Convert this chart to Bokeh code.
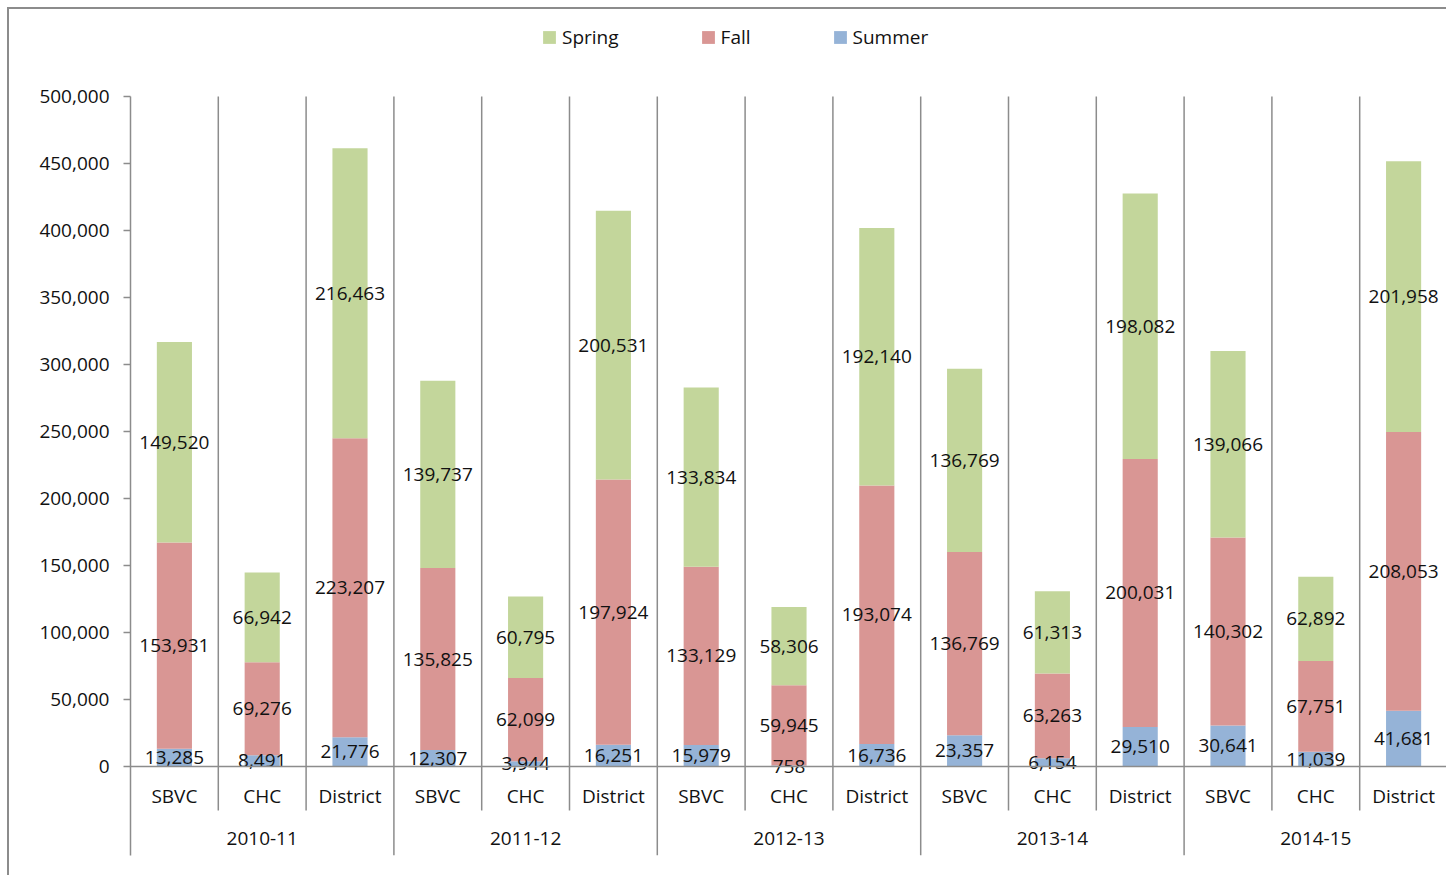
import numpy as np
from bokeh.plotting import figure
from bokeh.models import (FactorRange, Range1d, FixedTicker, NumeralTickFormatter,
                          Legend, LegendItem, ColumnDataSource)
from bokeh.core.properties import value
from bokeh.embed import file_html
from bokeh.resources import INLINE

years = ["2010-11", "2011-12", "2012-13", "2013-14", "2014-15"]
campuses = ["SBVC", "CHC", "District"]
summer = [13285, 8491, 21776, 12307, 3944, 16251, 15979, 758, 16736,
          23357, 6154, 29510, 30641, 11039, 41681]
fall = [153931, 69276, 223207, 135825, 62099, 197924, 133129, 59945, 193074,
        136769, 63263, 200031, 140302, 67751, 208053]
spring = [149520, 66942, 216463, 139737, 60795, 200531, 133834, 58306, 192140,
          136769, 61313, 198082, 139066, 62892, 201958]
y_ticks = list(range(0, 500001, 50000))

FONT = "Open Sans"
FS = "19px"
GRAY = "#8c8c8c"
TXT = "#111111"
C_SUMMER, C_FALL, C_SPRING = "#95b3d7", "#d99694", "#c3d69b"
Y_MIN, Y_TOP, Y_MAX = -66400, 500000, 564200

factors = [(y, c) for y in years for c in campuses]
x_range = FactorRange(*factors, factor_padding=0, subgroup_padding=0,
                      group_padding=0, range_padding=0)

p = figure(x_range=x_range, y_range=Range1d(Y_MIN, Y_MAX),
           width=1439, height=868, output_backend="svg", toolbar_location=None,
           min_border_left=121, min_border_right=1, min_border_top=1,
           min_border_bottom=22)
p.outline_line_color = None
p.xgrid.visible = False
p.ygrid.visible = False
p.styles = {"border-left": "2px solid #8c8c8c", "border-top": "2px solid #8c8c8c",
            "margin-left": "7px", "margin-top": "7px"}

src = ColumnDataSource(dict(x=factors, Summer=summer, Fall=fall, Spring=spring))
rs = p.vbar_stack(["Summer", "Fall", "Spring"], x="x", width=0.4, source=src,
                  fill_color=[C_SUMMER, C_FALL, C_SPRING], line_color=None)

# separators
sep_x = [(y, c, 0.5) for y in years for c in campuses]
sep_bottom = [Y_MIN if c == campuses[-1] else -32800 for y in years for c in campuses]
p.segment(x0=sep_x, y0=Y_TOP, x1=sep_x, y1=sep_bottom, line_color=GRAY, line_width=1.5)

# data labels
s = np.array(summer); f = np.array(fall); sp = np.array(spring)
lab_x = factors * 3
lab_y = list(s / 2) + list(s + f / 2) + list(s + f + sp / 2)
lab_t = [f"{v:,}" for v in summer + fall + spring]
p.text(x=lab_x, y=lab_y, text=lab_t, text_align="center", text_baseline="middle",
       text_font=value(FONT), text_font_size=FS, text_color=TXT)

# year (group) labels under the campus labels
p.text(x=[(y, campuses[1]) for y in years], y=[-53700] * len(years), text=years,
       text_align="center", text_baseline="middle",
       text_font=value(FONT), text_font_size=FS, text_color=TXT)

# y axis
ya = p.yaxis[0]
ya.ticker = FixedTicker(ticks=y_ticks)
ya.formatter = NumeralTickFormatter(format="0,0")
ya.bounds = (Y_MIN, Y_TOP)
ya.major_tick_in = 0
ya.major_tick_out = 7
ya.minor_tick_line_color = None
ya.axis_line_color = GRAY
ya.axis_line_width = 1.5
ya.major_tick_line_color = GRAY
ya.major_tick_line_width = 1.5
ya.major_label_standoff = 14
ya.major_label_text_font = FONT
ya.major_label_text_font_size = FS
ya.major_label_text_color = TXT

# x axis
xa = p.xaxis[0]
xa.fixed_location = 0
xa.major_tick_line_color = None
xa.minor_tick_line_color = None
xa.axis_line_color = GRAY
xa.axis_line_width = 1.5
xa.separator_line_color = None
xa.major_label_standoff = 10
xa.major_label_text_font = FONT
xa.major_label_text_font_size = FS
xa.major_label_text_color = TXT
xa.group_text_color = None

legend = Legend(items=[LegendItem(label="Spring", renderers=[rs[2]]),
                       LegendItem(label="Fall", renderers=[rs[1]]),
                       LegendItem(label="Summer", renderers=[rs[0]])],
                orientation="horizontal", location=(411, 805), padding=0, margin=0,
                spacing=81, glyph_width=16, glyph_height=16, label_standoff=5,
                border_line_color=None, background_fill_alpha=0,
                label_text_font=FONT, label_text_font_size=FS,
                label_text_color=TXT)
p.add_layout(legend)

open("out.html", "w").write(file_html(p, INLINE))
